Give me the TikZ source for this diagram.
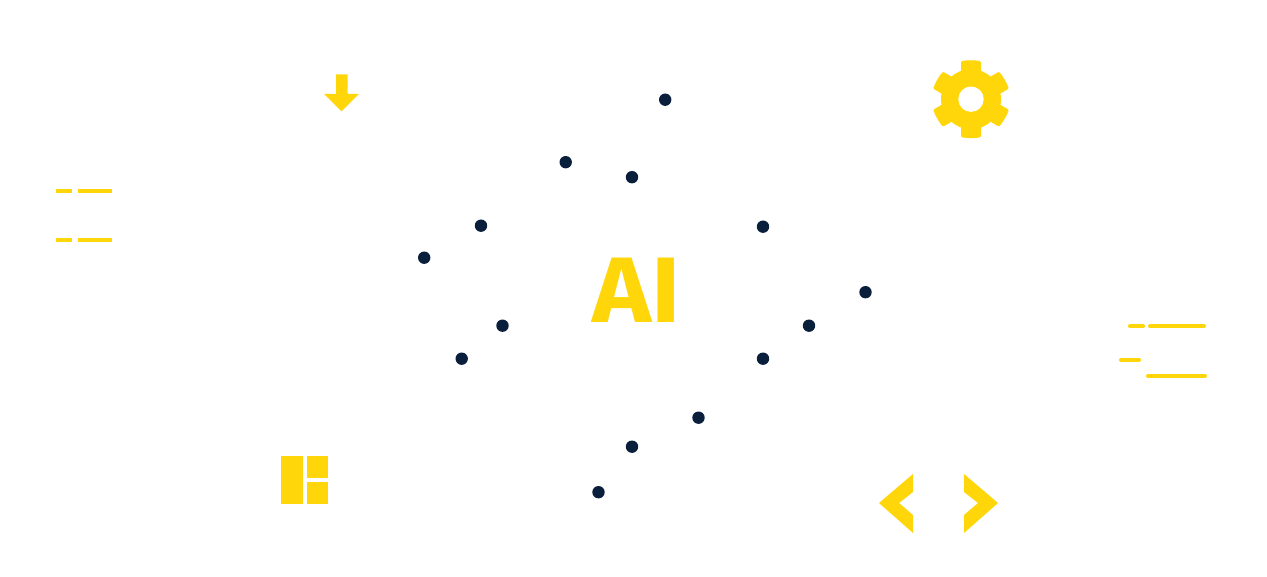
\documentclass[tikz,border=0pt]{standalone}
\usepackage{fontspec}
\newfontfamily\aifont[Scale=1]{Fira Sans Bold}
\definecolor{aiyellow}{HTML}{FFD60A}
\definecolor{ainavy}{HTML}{0A1F3C}
\tikzset{
  dotmark/.style={circle,fill=ainavy,draw=none,minimum size=12.4pt,inner sep=0pt},
  flatbar/.style={line width=4.2pt,draw=aiyellow},
  roundbar/.style={line width=4pt,draw=aiyellow,line cap=round},
  solidicon/.style={fill=aiyellow,draw=none}
}
\begin{document}
\begin{tikzpicture}[x=1pt,y=-1pt]
\useasboundingbox (0,0) rectangle (1267,577);
\fill[white] (0,0) rectangle (1267,577);
% dots
\foreach \n/\px/\py in {a/665.2/99.7,b/565.7/162.2,c/632/177.2,d/481/225.7,e/424.2/257.7,f/763/226.7,g/865.5/292.2,h/502.5/325.7,i/809/325.7,j/461.7/358.7,k/763/358.7,l/698.5/417.7,m/632/446.7,n/598.5/492.2}
  \node[dotmark] (dot\n) at (\px,\py) {};
% AI
\node[text=aiyellow,inner sep=0pt,anchor=base,xscale=1.075,font={\aifont\fontsize{93}{93}\selectfont}] (ailabel) at (636.5,323) {AI};
% download arrow
\path[solidicon] (336,74.3) -- (347.7,74.3) -- (347.7,94) -- (359,94) -- (341.5,111.3) -- (324,94) -- (336,94) -- cycle;
% left lines
\draw[flatbar] (56,191) -- (72,191);
\draw[flatbar] (78,191) -- (112,191);
\draw[flatbar] (56,240.2) -- (72,240.2);
\draw[flatbar] (78,240.2) -- (112,240.2);
% right lines
\draw[roundbar] (1130,326.3) -- (1143,326.3);
\draw[roundbar] (1150,326.3) -- (1204,326.3);
\draw[roundbar] (1121,359.8) -- (1139,359.8);
\draw[roundbar] (1148,375.8) -- (1205,375.8);
% layout icon
\fill[aiyellow] (281.2,456.2) rectangle (302.7,503.8);
\fill[aiyellow] (306.9,456.2) rectangle (328.3,477.7);
\fill[aiyellow] (306.9,482.4) rectangle (328.3,503.8);
% chevrons
\path[solidicon] (879,503) -- (913,474) -- (913,492) -- (899,503) -- (913,515) -- (913,533) -- cycle;
\path[solidicon] (998,503) -- (964,474) -- (964,492) -- (978,503) -- (964,515) -- (964,533) -- cycle;
% gear
\begin{scope}[shift={(971,99.2)}]
  \fill[aiyellow] (0,0) circle[radius=30];
  \foreach \r in {0,60,120,180,240,300}
    \fill[aiyellow,rotate=\r,rounded corners=1pt] (-9.8,-24) -- (-9.8,-38) .. controls (-4,-39.2) and (4,-39.2) .. (9.8,-38) -- (9.8,-24) -- cycle;
  \fill[white] (0,0) circle[radius=12.7];
\end{scope}
\end{tikzpicture}
\end{document}
